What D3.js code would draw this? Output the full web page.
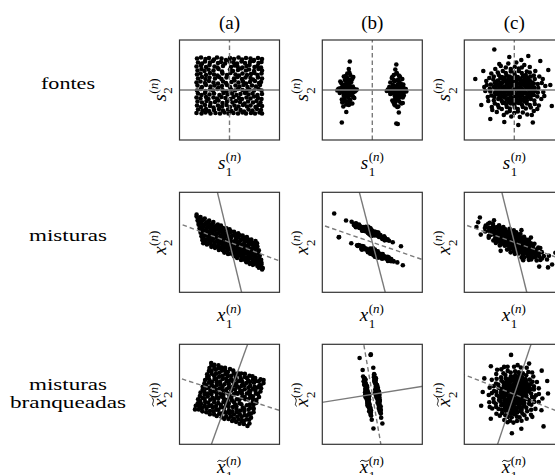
<!DOCTYPE html>
<html>
<head>
<meta charset="utf-8">
<script src="https://cdn.jsdelivr.net/npm/d3@7"></script>
<style>
body { margin: 0; background: #fff; }
svg { display: block; font-family: "Liberation Serif", "Times New Roman", serif; }
</style>
</head>
<body>
<div id="container"></div>
<script>
const width = 555, height = 475;

// labels
const colTitles = ["(a)", "(b)", "(c)"];
const rowTitles = [["fontes"], ["misturas"], ["misturas", "branqueadas"]];
const rowTitleWidths = [[54], [78], [78, 116]];
const axisLetters = ["s", "x", "x"];
const axisTilde = [false, false, true];

// source samples, in % of the panel half-width
const srcA = [
  [-65,63],[-57,65],[-48,62],[-41,64],[-31,61],[-25,65],[-16,63],[-7,60],[1,64],[9,62],[18,65],[25,61],[33,64],[42,63],[49,60],[57,64],[65,62],
  [-63,55],[-55,53],[-49,57],[-39,55],[-33,58],[-23,54],[-17,56],[-9,53],[0,57],[8,55],[15,53],[24,57],[31,54],[41,56],[48,58],[58,54],[64,56],
  [-66,47],[-57,49],[-47,46],[-40,50],[-30,47],[-24,45],[-13,48],[3,46],[10,49],[16,47],[26,45],[34,48],[40,50],[50,46],[56,48],[63,45],
  [-64,39],[-56,42],[-50,38],[-42,41],[-32,39],[-22,42],[-15,37],[1,41],[7,38],[17,40],[23,43],[33,39],[39,41],[49,38],[58,42],[65,39],
  [-65,31],[-58,33],[-47,30],[-39,34],[-31,31],[-24,29],[-14,33],[-5,30],[2,34],[12,31],[19,29],[26,33],[35,30],[43,32],[50,34],[56,30],[64,33],
  [-63,23],[-55,26],[-48,22],[-40,25],[-29,23],[-21,26],[-16,22],[-6,25],[9,23],[16,26],[25,22],[32,25],[42,24],[47,21],[57,25],[65,23],
  [-66,15],[-58,17],[-49,14],[-41,18],[-32,15],[-23,13],[-13,17],[-7,14],[4,16],[10,19],[18,15],[27,17],[33,13],[41,16],[51,18],[59,14],[63,16],
  [-64,9],[-55,6],[-47,10],[-38,7],[-30,9],[-22,5],[-15,8],[-5,10],[1,6],[12,9],[20,7],[28,10],[36,6],[45,9],[53,7],[61,10],
  [-65,-1],[-57,2],[-48,-2],[-39,1],[-33,-1],[-24,2],[-14,0],[-6,-3],[3,1],[11,-1],[17,2],[26,0],[34,-2],[40,1],[49,-1],[58,2],[64,-1],
  [-63,-7],[-56,-10],[-49,-6],[-40,-9],[-31,-7],[-20,-10],[-12,-6],[-4,-9],[5,-7],[14,-10],[22,-8],[31,-6],[38,-9],[46,-7],[56,-10],[65,-8],
  [-66,-15],[-58,-17],[-47,-14],[-42,-18],[-32,-15],[-25,-17],[-16,-14],[-8,-16],[2,-18],[8,-14],[19,-16],[25,-18],[34,-15],[42,-17],[49,-13],[57,-16],[64,-18],
  [-64,-23],[-55,-25],[-46,-22],[-38,-26],[-29,-24],[-22,-21],[-14,-26],[-5,-23],[6,-25],[13,-22],[21,-24],[30,-27],[37,-23],[47,-25],[54,-22],[62,-25],
  [-65,-31],[-57,-34],[-49,-30],[-39,-32],[-32,-35],[-23,-31],[-15,-33],[-6,-30],[1,-34],[10,-31],[18,-33],[27,-30],[35,-33],[42,-31],[52,-34],[58,-30],[65,-32],
  [-63,-39],[-54,-41],[-47,-38],[-41,-42],[-31,-40],[-21,-38],[-13,-41],[-3,-39],[4,-42],[13,-38],[22,-40],[29,-43],[38,-39],[46,-41],[55,-38],[63,-40],
  [-66,-46],[-56,-47],[-48,-45],[-38,-47],[-28,-46],[-19,-47],[-10,-45],[-2,-47],[8,-46],[17,-47],[26,-45],[33,-47],[43,-46],[51,-47],[60,-45],[65,-47]
];

const srcB = [
  // left cluster
  [-68,2],[-63,-3],[-59,5],[-55,-1],[-52,3],[-49,-4],[-46,1],[-43,6],[-40,-2],[-36,2],[-33,-1],[-65,-6],[-58,8],[-53,-7],[-48,9],[-45,-8],[-42,4],[-50,0],[-56,1],[-61,-1],
  [-38,-5],[-31,1],[-70,-1],[-62,4],[-54,7],[-49,-9],[-44,5],[-51,-5],[-57,-9],[-47,-3],[-39,7],[-52,10],[-47,-2],[-50,6],[-45,3],[-60,1],[-66,3],[-35,-3],[-57,-5],[-41,-8],
  [-62,14],[-49,18],[-40,22],[-45,13],[-57,-12],[-36,-16],[-44,-20],[-59,-24],[-53,12],[-42,16],[-64,17],[-50,24],
  [-55,-18],[-38,-14],[-47,-22],[-52,-11],[-61,-19],[-60,11],[-44,21],[-48,-15],[-53,-23],[-55,20],[-41,-11],[-51,14],
  [-57,27],[-44,30],[-50,33],[-53,28],[-40,-27],[-47,-30],[-58,-33],[-45,-28],[-60,-25],[-38,26],[-52,-29],[-46,35],
  [-47,42],[-45,57],[-52,-44],[-61,-65],
  // right cluster
  [31,1],[35,-3],[38,4],[42,-1],[45,2],[48,-5],[51,1],[54,5],[57,-2],[60,3],[64,-1],[67,2],[34,6],[39,-7],[44,8],[47,-9],[50,7],[53,-6],[56,9],[59,-4],
  [62,6],[43,-2],[49,0],[52,-3],[46,5],[37,1],[61,-8],[41,10],[55,-10],[50,3],[47,-1],[58,-1],[44,-4],[53,4],[29,-2],[68,-3],[40,-4],[63,-5],[36,-8],[57,7],
  [57,13],[44,17],[52,21],[39,24],[45,-12],[61,-15],[48,-19],[54,-23],[36,15],[55,12],[42,-24],[46,-17],
  [63,-11],[49,19],[57,-14],[40,-21],[51,11],[60,22],[54,16],[46,-24],[50,-13],[43,20],[62,11],[52,-18],
  [55,27],[43,30],[49,34],[58,-27],[46,-31],[50,-34],[40,26],[53,29],[61,-26],[44,-29],[52,-33],[48,33],
  [48,51],[46,41],[53,-45],[48,-67],[51,-68]
];

const srcC = [
  [-17,45],[-7,42],[1,46],[9,43],[15,45],
  [-33,35],[-23,38],[-17,34],[-7,37],[0,35],[9,38],[15,34],[25,37],[31,35],
  [-41,27],[-31,30],[-25,26],[-15,29],[-9,27],[1,30],[7,26],[17,28],[23,30],[33,27],[39,29],
  [-42,21],[-33,19],[-23,22],[-16,18],[-9,21],[2,19],[9,22],[15,18],[24,21],[31,19],[41,22],
  [-47,11],[-39,14],[-33,10],[-25,13],[-15,11],[-7,14],[1,10],[7,13],[17,11],[25,14],[31,10],[39,13],[47,12],
  [-49,3],[-41,6],[-31,2],[-24,5],[-17,3],[-8,6],[1,2],[9,5],[15,3],[23,6],[33,2],[40,5],[48,4],
  [-48,-3],[-39,-6],[-32,-2],[-23,-5],[-16,-3],[-9,-6],[0,-2],[8,-5],[17,-3],[24,-6],[31,-4],[41,-2],[47,-5],
  [-46,-11],[-40,-14],[-31,-10],[-24,-13],[-17,-11],[-7,-14],[2,-10],[9,-13],[15,-11],[25,-14],[33,-12],[39,-10],[46,-13],
  [-41,-21],[-32,-18],[-25,-22],[-15,-19],[-8,-21],[1,-18],[7,-22],[16,-19],[25,-21],[33,-18],[40,-21],
  [-39,-27],[-33,-30],[-23,-26],[-16,-29],[-7,-27],[0,-30],[9,-26],[15,-29],[25,-27],[31,-30],[41,-28],
  [-31,-35],[-25,-38],[-15,-34],[-9,-37],[1,-35],[7,-38],[17,-34],[23,-37],[33,-35],
  [-15,-45],[-9,-42],[0,-46],[7,-43],[17,-45],
  // inner core, between the rows above
  [-28,24],[-20,25],[-12,23],[-4,24],[4,25],[12,23],[20,24],[28,25],
  [-36,16],[-28,15],[-20,17],[-12,15],[-4,16],[4,17],[12,15],[20,16],[28,17],[36,15],
  [-36,8],[-28,9],[-20,7],[-12,8],[-4,9],[4,7],[12,8],[20,9],[28,7],[36,8],
  [-36,0],[-28,-1],[-20,1],[-12,0],[-4,-1],[4,1],[12,0],[20,-1],[28,1],[36,0],
  [-36,-8],[-28,-7],[-20,-9],[-12,-8],[-4,-7],[4,-9],[12,-8],[20,-7],[28,-9],[36,-8],
  [-28,-16],[-20,-15],[-12,-17],[-4,-16],[4,-15],[12,-17],[20,-16],[28,-15],
  [-20,-25],[-12,-24],[-4,-23],[4,-25],[12,-24],[20,-23],
  // ragged edge
  [-55,10],[-53,-14],[-58,-2],[-50,24],[-46,33],[-38,42],[-27,48],[-12,53],[4,55],[20,50],[31,46],[42,38],[50,27],[55,14],[58,-4],[54,-18],[49,-31],[39,-42],
  [26,-49],[11,-54],[-6,-53],[-21,-50],[-35,-44],[-45,-34],[-52,-22],[-60,6],[-44,-40],[62,8],[57,22],[35,-50],[-30,52],[14,60],[46,-38],[-56,18],[60,-12],
  // scattered
  [-78,22],[-40,81],[75,-32],[37,-65],[-66,-30],[-20,-64],[68,40],[28,68],[-62,38],[72,10],[8,-70],[-10,66],[52,58],[-48,-58]
];
const sources = [srcA, srcB, srcC];

// mixing matrix (row 2) and whitened-mixture matrices (row 3)
const mixM = [[0.11, 1.08], [-0.44, -0.48]];
const whiteM = [
  [[0.255, 0.96], [0.705, -0.31]],
  [[0.205, 0.20], [0.033, -1.16]],
  [[0.30, 0.88], [0.90, -0.35]]
];

// direction of the solid / dashed lines, degrees
const solidAngle = [[0, 0, 0], [-76.4, -75.5, -76], [70.1, 9.1, 71.5]];
const dashAngle = [[90, 90, 90], [-20.4, -19, -19.6], [-17.9, -80.3, -21.4]];

const colLeft = [179.5, 322.3, 464.3];
const rowTop = [40, 192.3, 344.3];
const box = 100;

const svg = d3.select("#container").append("svg")
  .attr("width", width).attr("height", height);

function apply(M, p) {
  return [M[0][0] * p[0] + M[0][1] * p[1], M[1][0] * p[0] + M[1][1] * p[1]];
}

function panelData(r, c) {
  const s = sources[c];
  if (r === 0) return s;
  const mx = d3.mean(s, d => d[0]), my = d3.mean(s, d => d[1]);
  const M = r === 1 ? mixM : whiteM[c];
  return s.map(d => apply(M, [d[0] - mx, d[1] - my]));
}

function mathLabel(x, y, letter, sub, tilde, rotate) {
  const g = svg.append("g")
    .attr("transform", `translate(${x},${y})` + (rotate ? " rotate(-90)" : ""));
  const inner = g.append("g").attr("fill", "#000");
  const main = inner.append("text")
    .attr("font-style", "italic").attr("font-size", 19).text(letter);
  const w = main.node().getComputedTextLength();
  const sup = inner.append("text").attr("x", w + 0.5).attr("y", -8).attr("font-size", 13);
  sup.append("tspan").text("(");
  sup.append("tspan").attr("font-style", "italic").text("n");
  sup.append("tspan").text(")");
  inner.append("text").attr("x", w + 0.5).attr("y", 6.5).attr("font-size", 13).text(sub);
  if (tilde) {
    inner.append("path")
      .attr("d", `M0.5,-11.5 C${w * 0.35},-15.5 ${w * 0.6},-9.5 ${w + 1},-13.5`)
      .attr("fill", "none").attr("stroke", "#000").attr("stroke-width", 0.9);
  }
  const bw = inner.node().getBBox().width;
  inner.attr("transform", `translate(${-bw / 2},0)`);
}

// column titles
colTitles.forEach((t, c) => {
  svg.append("text")
    .attr("x", colLeft[c] + box / 2).attr("y", 29)
    .attr("text-anchor", "middle").attr("font-size", 19)
    .text(t);
});

// row titles
rowTitles.forEach((lines, r) => {
  const cy = rowTop[r] + box / 2;
  const y0 = lines.length === 1 ? cy - 1.5 : cy - 4.5;
  lines.forEach((t, i) => {
    svg.append("text")
      .attr("x", 68).attr("y", y0 + i * 18.5)
      .attr("text-anchor", "middle").attr("font-size", 17.5)
      .attr("textLength", rowTitleWidths[r][i]).attr("lengthAdjust", "spacingAndGlyphs")
      .text(t);
  });
});

const defs = svg.append("defs");

for (let r = 0; r < 3; r++) {
  for (let c = 0; c < 3; c++) {
    const x0 = colLeft[c], y0 = rowTop[r];
    const x = d3.scaleLinear().domain([-100, 100]).range([x0, x0 + box]);
    const y = d3.scaleLinear().domain([-100, 100]).range([y0 + box, y0]);
    const id = `clip-${r}-${c}`;
    defs.append("clipPath").attr("id", id)
      .append("rect").attr("x", x0).attr("y", y0).attr("width", box).attr("height", box);

    const g = svg.append("g").attr("clip-path", `url(#${id})`);

    g.selectAll("circle")
      .data(panelData(r, c))
      .join("circle")
      .attr("cx", d => x(d[0]))
      .attr("cy", d => y(d[1]))
      .attr("r", 2.3)
      .attr("fill", "#000");

    const seg = a => {
      const t = a * Math.PI / 180, L = 160;
      return [[-L * Math.cos(t), -L * Math.sin(t)], [L * Math.cos(t), L * Math.sin(t)]];
    };
    const line = d3.line().x(d => x(d[0])).y(d => y(d[1]));
    g.append("path").attr("d", line(seg(dashAngle[r][c])))
      .attr("stroke", "#7a7a7a").attr("stroke-width", 1.4)
      .attr("stroke-dasharray", "4.5,3").attr("fill", "none");
    g.append("path").attr("d", line(seg(solidAngle[r][c])))
      .attr("stroke", "#7a7a7a").attr("stroke-width", 1.4).attr("fill", "none");

    svg.append("rect")
      .attr("x", x0).attr("y", y0).attr("width", box).attr("height", box)
      .attr("fill", "none").attr("stroke", "#333").attr("stroke-width", 1.2);

    mathLabel(x0 + box / 2, y0 + box + 29, axisLetters[r], "1", axisTilde[r], false);
    mathLabel(x0 - 14, y0 + box / 2, axisLetters[r], "2", axisTilde[r], true);
  }
}
</script>
</body>
</html>
